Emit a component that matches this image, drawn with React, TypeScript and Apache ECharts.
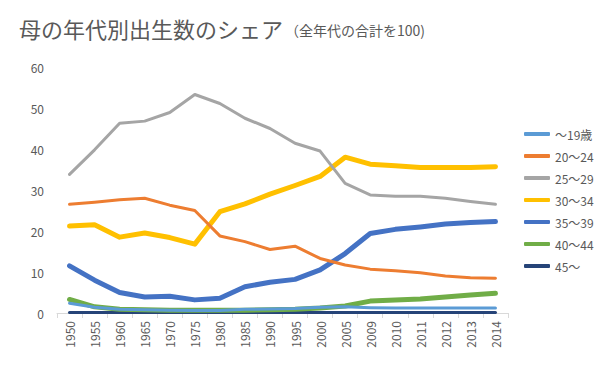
import React, { useEffect, useRef } from "react";
import * as echarts from "echarts";

const years = ["1950","1955","1960","1965","1970","1975","1980","1985","1990","1995","2000","2005","2009","2010","2011","2012","2013","2014"];
const seriesNames = ["～19歳", "20～24", "25～29", "30～34", "35～39", "40～44", "45～"];
const age19 = [2.4, 1.4, 0.9, 0.8, 0.7, 0.6, 0.6, 0.9, 1.0, 1.1, 1.4, 1.5, 1.3, 1.2, 1.2, 1.2, 1.2, 1.2];
const age20 = [26.5, 27.0, 27.6, 28.0, 26.3, 25.0, 18.8, 17.4, 15.5, 16.3, 13.3, 11.7, 10.7, 10.3, 9.8, 9.0, 8.6, 8.5];
const age25 = [33.8, 39.8, 46.3, 46.8, 48.9, 53.3, 51.1, 47.5, 45.0, 41.4, 39.5, 31.6, 28.8, 28.5, 28.5, 28.0, 27.2, 26.5];
const age30 = [21.2, 21.5, 18.5, 19.5, 18.4, 16.8, 24.7, 26.6, 29.0, 31.1, 33.3, 38.0, 36.3, 35.9, 35.5, 35.5, 35.5, 35.7];
const age35 = [11.5, 8.0, 5.0, 3.9, 4.1, 3.2, 3.6, 6.4, 7.5, 8.2, 10.5, 14.5, 19.4, 20.4, 21.0, 21.7, 22.1, 22.3];
const age40 = [3.3, 1.5, 0.9, 0.8, 0.7, 0.7, 0.7, 0.7, 0.8, 0.9, 1.2, 1.7, 2.9, 3.2, 3.4, 3.9, 4.4, 4.8];
const age45 = [0.1, 0.1, 0.1, 0.1, 0.1, 0.1, 0.1, 0.1, 0.1, 0.1, 0.1, 0.1, 0.1, 0.1, 0.1, 0.1, 0.1, 0.1];
const yTicks = { min: 0, max: 60, interval: 10 };

const colors = ["#5B9BD5", "#ED7D31", "#A5A5A5", "#FFC000", "#4472C4", "#70AD47", "#264478"];
const widths = [3, 3, 3, 5, 5, 5, 3];

export default function App() {
  const ref = useRef<HTMLDivElement>(null);
  useEffect(() => {
    if (!ref.current) return;
    const chart = echarts.init(ref.current, null, { renderer: "svg" });
    const data = [age19, age20, age25, age30, age35, age40, age45];
    const font = "'Noto Sans CJK JP', 'Noto Sans', sans-serif";
    chart.setOption({
      animation: false,
      color: colors,
      textStyle: { fontFamily: font },
      title: {
        left: 14,
        top: 12,
        text: "{a|母の年代別出生数のシェア}{b|（全年代の合計を100)}",
        textStyle: {
          fontWeight: "normal",
          rich: {
            a: { fontSize: 22, color: "#595959", fontFamily: font, fontWeight: "normal" },
            b: { fontSize: 14, color: "#595959", fontFamily: font, fontWeight: "normal", padding: [3, 0, 0, 2] },
          },
        },
      },
      legend: {
        orient: "vertical",
        left: 519,
        top: 123,
        itemWidth: 26,
        itemHeight: 4,
        itemGap: 10,
        icon: "roundRect",
        textStyle: { color: "#595959", fontSize: 12 },
        data: seriesNames,
      },
      grid: { left: 57, right: 94, top: 67, bottom: 59, containLabel: false },
      xAxis: {
        type: "category",
        data: years,
        boundaryGap: true,
        axisLine: { lineStyle: { color: "#D9D9D9" } },
        axisTick: { show: true, length: 5, alignWithLabel: false, lineStyle: { color: "#D9D9D9" } },
        axisLabel: { rotate: 90, color: "#595959", fontSize: 12, margin: 8, interval: 0 },
      },
      yAxis: {
        type: "value",
        min: yTicks.min,
        max: yTicks.max,
        interval: yTicks.interval,
        axisLine: { show: false },
        axisTick: { show: false },
        splitLine: { show: false },
        axisLabel: { color: "#595959", fontSize: 12, margin: 13 },
      },
      series: seriesNames.map((name, i) => ({
        name,
        type: "line",
        data: data[i],
        symbol: "none",
        lineStyle: { width: widths[i], color: colors[i], cap: "round", join: "round" },
        itemStyle: { color: colors[i] },
        z: 10 - i,
      })),
    });
    return () => chart.dispose();
  }, []);
  return <div ref={ref} style={{ width: 602, height: 372, margin: -8 }} />;
}
